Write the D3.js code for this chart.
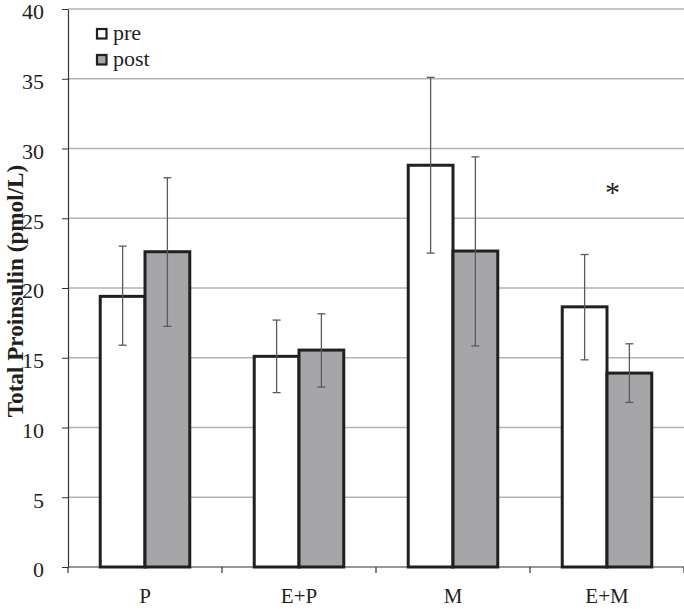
<!DOCTYPE html>
<html><head><meta charset="utf-8">
<script src="https://cdn.jsdelivr.net/npm/d3@7"></script>
<style>body{margin:0;background:#fff}svg{display:block}</style>
</head><body>
<svg id="c" width="684" height="609"></svg>
<script>
const categories = ["P", "E+P", "M", "E+M"];
const seriesNames = ["pre", "post"];
const preValues = [19.4, 15.1, 28.8, 18.65];
const postValues = [22.6, 15.55, 22.65, 13.9];
const preErrLow = [15.9, 12.5, 22.5, 14.85];
const preErrHigh = [23.0, 17.7, 35.1, 22.4];
const postErrLow = [17.25, 12.9, 15.85, 11.8];
const postErrHigh = [27.9, 18.15, 29.4, 16.0];
const yTicks = [0, 5, 10, 15, 20, 25, 30, 35, 40];
const significant = [false, false, false, true];

const svg = d3.select("#c");
const m = {left: 68, right: 684, top: 9, bottom: 567};
const x = d3.scaleBand().domain(categories).range([m.left, m.right]);
const inner = d3.scaleBand().domain(seriesNames).range([0, x.bandwidth()]).paddingInner(0).paddingOuter(0.72);
const y = d3.scaleLinear().domain([0, 40]).range([m.bottom, m.top]);
const fills = {pre: "#ffffff", post: "#a6a6a8"};
const font = "'Liberation Serif','Times New Roman',serif";

// gridlines
svg.append("g").selectAll("line").data(yTicks.filter(d => d > 0)).join("line")
  .attr("x1", m.left).attr("x2", m.right)
  .attr("y1", d => y(d)).attr("y2", d => y(d))
  .attr("stroke", "#b3b3b3").attr("stroke-width", 1.5);

// y axis
const yAxis = svg.append("g").attr("transform", `translate(${m.left},0)`)
  .call(d3.axisLeft(y).tickValues(yTicks).tickSize(6).tickPadding(18).tickSizeOuter(0));
yAxis.attr("font-family", font);
yAxis.select(".domain").attr("stroke", "#333").attr("stroke-width", 1.2);
yAxis.selectAll(".tick line").attr("stroke", "#333");
yAxis.selectAll("text").style("font-family", font).attr("font-size", 22).attr("fill", "#231f20")
  .attr("dy", "0.45em");

// x axis
const xAxis = svg.append("g").attr("transform", `translate(0,${m.bottom})`)
  .call(d3.axisBottom(x).tickSize(0).tickPadding(21));
xAxis.attr("font-family", font);
xAxis.select(".domain").remove();
xAxis.selectAll("text").style("font-family", font).attr("font-size", 21).attr("fill", "#231f20");
// boundary ticks
const bounds = categories.map(c => x(c)).concat([m.right]);
svg.append("g").selectAll("line").data(bounds).join("line")
  .attr("x1", d => d).attr("x2", d => d).attr("y1", m.bottom).attr("y2", m.bottom + 6)
  .attr("stroke", "#333").attr("stroke-width", 1.2);
svg.append("line").attr("x1", m.left).attr("x2", m.right).attr("y1", m.bottom).attr("y2", m.bottom)
  .attr("stroke", "#333").attr("stroke-width", 1.2);

// bars
const rows = [];
categories.forEach((c, i) => {
  rows.push({c, s: "pre", v: preValues[i], lo: preErrLow[i], hi: preErrHigh[i]});
  rows.push({c, s: "post", v: postValues[i], lo: postErrLow[i], hi: postErrHigh[i]});
});
svg.append("g").selectAll("rect").data(rows).join("rect")
  .attr("x", d => x(d.c) + inner(d.s))
  .attr("y", d => y(d.v))
  .attr("width", inner.bandwidth())
  .attr("height", d => y(0) - y(d.v))
  .attr("fill", d => fills[d.s])
  .attr("stroke", "#231f20").attr("stroke-width", 3);

// error bars
const eg = svg.append("g").attr("stroke", "#5a5a5a").attr("stroke-width", 1.3);
rows.forEach(d => {
  const cx = x(d.c) + inner(d.s) + inner.bandwidth() / 2;
  eg.append("line").attr("x1", cx).attr("x2", cx).attr("y1", y(d.lo)).attr("y2", y(d.hi));
  eg.append("line").attr("x1", cx - 4).attr("x2", cx + 4).attr("y1", y(d.lo)).attr("y2", y(d.lo));
  eg.append("line").attr("x1", cx - 4).attr("x2", cx + 4).attr("y1", y(d.hi)).attr("y2", y(d.hi));
});

// significance
categories.forEach((c, i) => {
  if (!significant[i]) return;
  svg.append("text").attr("x", x(c) + x.bandwidth() * 0.535).attr("y", y(27) + 12)
    .attr("text-anchor", "middle").style("font-family", font).attr("font-size", 30)
    .attr("fill", "#231f20").text("*");
});

// y title
svg.append("text").attr("transform", `translate(23,291) rotate(-90)`)
  .attr("text-anchor", "middle").style("font-family", font).attr("font-size", 23.2)
  .attr("font-weight", "bold").attr("fill", "#231f20").text("Total Proinsulin (pmol/L)");

// legend
const lg = svg.append("g");
seriesNames.forEach((s, i) => {
  const yy = 29 + i * 26;
  lg.append("rect").attr("x", 97).attr("y", yy).attr("width", 9.5).attr("height", 9.5)
    .attr("fill", fills[s]).attr("stroke", "#231f20").attr("stroke-width", 2.2);
  lg.append("text").attr("x", 113).attr("y", yy + 11).style("font-family", font)
    .attr("font-size", 22).attr("fill", "#231f20").text(s);
});
</script>
</body></html>
